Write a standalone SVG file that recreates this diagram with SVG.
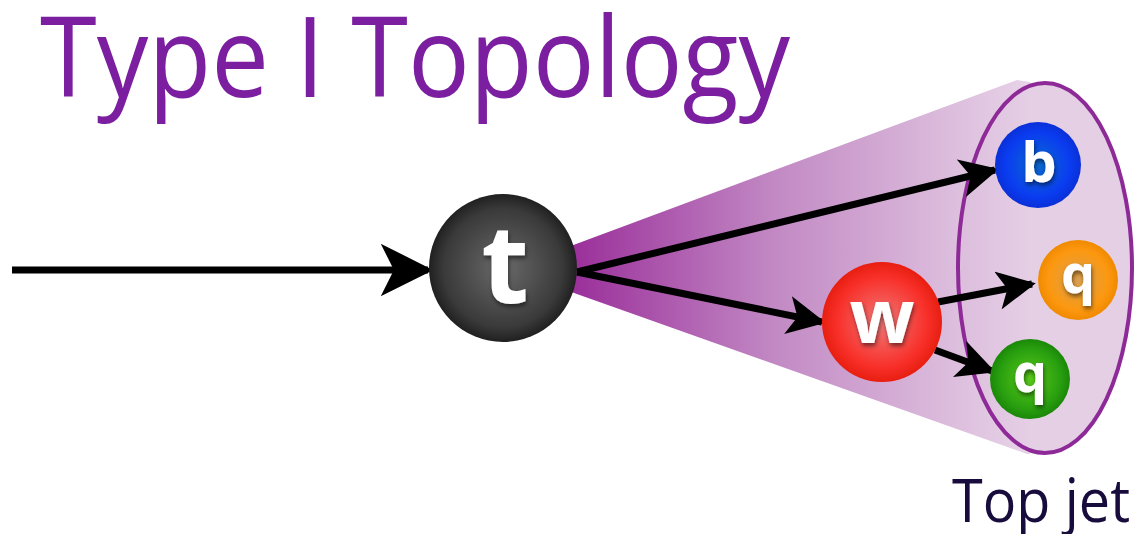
<svg xmlns="http://www.w3.org/2000/svg" width="1140" height="534" viewBox="0 0 1140 534">
<defs>
<style>
.ttl{font-family:"Open Sans","Liberation Sans",sans-serif;fill:#7b1fa0}
.lbl{font-family:"Open Sans","Liberation Sans",sans-serif;font-weight:bold;fill:#ffffff;text-anchor:middle}
.edge{stroke:#000;fill:none;stroke-width:7}
</style>
<linearGradient id="cone" gradientUnits="userSpaceOnUse" x1="570" y1="0" x2="1030" y2="0">
<stop offset="0" stop-color="#9a2e9a"/>
<stop offset="0.45" stop-color="#c28ac4"/>
<stop offset="1" stop-color="#e8d4e8"/>
</linearGradient>
<radialGradient id="gt" cx="0.5" cy="0.5" r="0.5"><stop offset="0" stop-color="#6a6a6a"/><stop offset="0.8" stop-color="#3a3a3a"/><stop offset="1" stop-color="#202020"/></radialGradient>
<radialGradient id="gb" cx="0.5" cy="0.5" r="0.5"><stop offset="0" stop-color="#0a6ad0"/><stop offset="0.75" stop-color="#0a3cf0"/><stop offset="1" stop-color="#0a30d8"/></radialGradient>
<radialGradient id="gw" cx="0.5" cy="0.5" r="0.5"><stop offset="0" stop-color="#f07a7a"/><stop offset="0.75" stop-color="#f8302a"/><stop offset="1" stop-color="#e81e10"/></radialGradient>
<radialGradient id="go" cx="0.5" cy="0.5" r="0.5"><stop offset="0" stop-color="#d9a050"/><stop offset="0.75" stop-color="#fc9810"/><stop offset="1" stop-color="#f08a00"/></radialGradient>
<radialGradient id="gg" cx="0.5" cy="0.5" r="0.5"><stop offset="0" stop-color="#58c818"/><stop offset="0.75" stop-color="#2aa010"/><stop offset="1" stop-color="#1a8808"/></radialGradient>
<filter id="sh" x="-30%" y="-30%" width="160%" height="160%"><feDropShadow dx="1" dy="3" stdDeviation="2" flood-color="#000" flood-opacity="0.5"/></filter>
<marker id="ah" viewBox="0 0 10 10" refX="9" refY="5" markerWidth="5.5" markerHeight="5.5" orient="auto" markerUnits="strokeWidth">
<path d="M0,0 L10,5 L0,10 L2.5,5 z" fill="#000"/>
</marker>
<marker id="ah2" viewBox="0 0 10 10" refX="9" refY="5" markerWidth="7.5" markerHeight="7.5" orient="auto" markerUnits="strokeWidth">
<path d="M0,0 L10,5 L0,10 L2.5,5 z" fill="#000"/>
</marker>
</defs>
<rect width="1140" height="534" fill="#fff"/>
<text class="ttl" x="40" y="97" font-size="112" textLength="750" lengthAdjust="spacingAndGlyphs">Type I Topology</text>
<g id="jet">
<ellipse cx="1045" cy="268" rx="87" ry="185" fill="#e8d4e8"/>
<polygon points="560,250 1017,80 1030,82 1030,454 1027,454 560,288" fill="url(#cone)"/>
<ellipse cx="1045" cy="268" rx="87" ry="185" fill="#d8b8d8" fill-opacity="0.15" stroke="#8e2a98" stroke-width="4"/>
</g>
<g id="connectors">
<line class="edge" x1="12" y1="270" x2="428" y2="270" stroke-width="5" marker-end="url(#ah2)"/>
<line class="edge" x1="577" y1="272" x2="995" y2="170" marker-end="url(#ah)"/>
<line class="edge" x1="577" y1="272" x2="822" y2="322" marker-end="url(#ah)"/>
<line class="edge" x1="938" y1="302" x2="1032" y2="284" marker-end="url(#ah)"/>
<line class="edge" x1="935" y1="350" x2="992" y2="371" marker-end="url(#ah)"/>
</g>
<g id="node-t">
<circle cx="503" cy="268" r="74" fill="url(#gt)"/>
<text class="lbl" x="505" y="303" font-size="110" filter="url(#sh)">t</text>
</g>
<g id="node-b">
<circle cx="1038" cy="165" r="43" fill="url(#gb)"/>
<text class="lbl" x="1039" y="182" font-size="56" filter="url(#sh)">b</text>
</g>
<g id="node-w">
<circle cx="882" cy="322" r="60" fill="url(#gw)"/>
<text class="lbl" x="882" y="343" font-size="76" filter="url(#sh)">w</text>
</g>
<g id="node-q1">
<circle cx="1078" cy="280" r="40" fill="url(#go)"/>
<text class="lbl" x="1078" y="293" font-size="54" filter="url(#sh)">q</text>
</g>
<g id="node-q2">
<circle cx="1030" cy="379" r="40" fill="url(#gg)"/>
<text class="lbl" x="1030" y="392" font-size="54" filter="url(#sh)">q</text>
</g>
<text x="952" y="522" font-family="'Open Sans','Liberation Sans',sans-serif" font-size="60" fill="#180c3c" textLength="178" lengthAdjust="spacingAndGlyphs">Top jet</text>
</svg>
